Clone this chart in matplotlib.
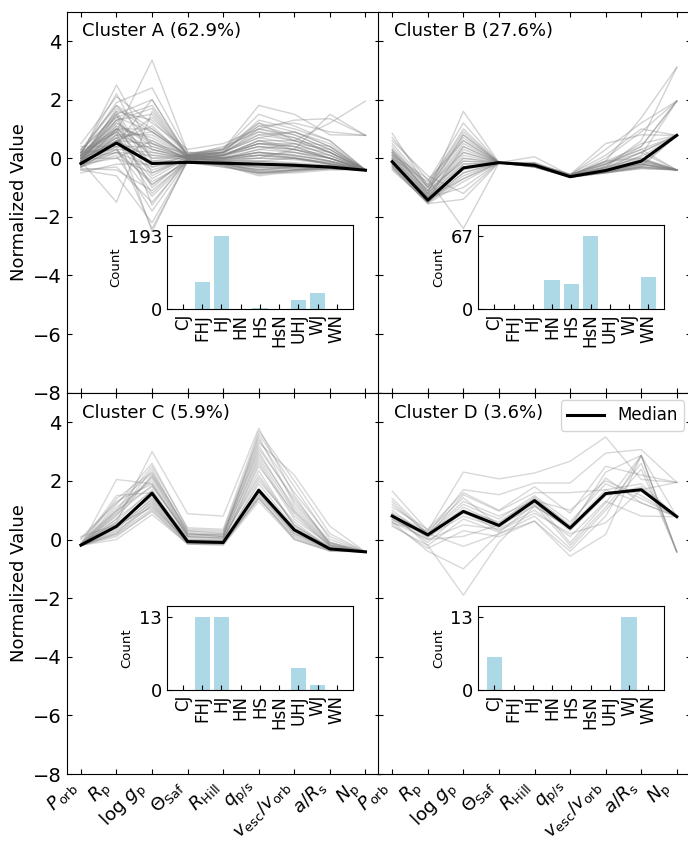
import matplotlib
matplotlib.use("Agg")
import matplotlib.pyplot as plt
import numpy as np

# Feature axes of the parallel-coordinate plot
features = [r'$P_{\rm orb}$', r'$R_{\rm p}$', r'$\log\,g_{\rm p}$', r'$\Theta_{\rm Saf}$',
            r'$R_{\rm Hill}$', r'$q_{\rm p/s}$', r'$v_{\rm esc}/v_{\rm orb}$',
            r'$a/R_{\rm s}$', r'$N_{\rm p}$']

# Planet classes shown in the count insets
planet_types = ['CJ', 'FHJ', 'HJ', 'HN', 'HS', 'HsN', 'UHJ', 'WJ', 'WN']

cluster_names = ['Cluster A', 'Cluster B', 'Cluster C', 'Cluster D']
cluster_pct = [62.9, 27.6, 5.9, 3.6]

counts_A = [0, 70, 193, 0, 2, 0, 24, 43, 0]
counts_B = [0, 0, 0, 27, 23, 67, 0, 0, 29]
counts_C = [0, 13, 13, 0, 0, 0, 4, 1, 0]
counts_D = [6, 0, 0, 0, 0, 0, 0, 13, 0]

median_A = [-0.18, 0.52, -0.18, -0.14, -0.17, -0.20, -0.24, -0.30, -0.41]
median_B = [-0.12, -1.43, -0.33, -0.15, -0.24, -0.63, -0.42, -0.10, 0.78]
median_C = [-0.19, 0.45, 1.58, -0.07, -0.10, 1.68, 0.33, -0.32, -0.42]
median_D = [0.80, 0.16, 0.96, 0.48, 1.33, 0.39, 1.57, 1.70, 0.78]

members_A = [
    [-0.20, 0.60, -0.20, -0.10, -0.15, -0.20, -0.25, -0.30, -0.40],
    [-0.10, 1.20, 0.50, 0.00, 0.10, 0.40, 0.20, -0.10, -0.40],
    [0.30, 1.80, 1.00, 0.10, 0.30, 1.00, 0.80, 0.30, -0.40],
    [-0.30, 0.20, -0.80, -0.15, -0.30, -0.50, -0.45, -0.35, -0.40],
    [0.10, 2.50, 0.30, 0.05, 0.20, 0.80, 0.60, 0.20, -0.40],
    [-0.40, -0.30, -1.50, -0.10, -0.25, -0.55, -0.40, -0.30, -0.40],
    [0.20, 0.90, 3.35, 0.20, 0.20, 1.20, 0.60, 0.40, -0.40],
    [-0.20, 1.50, 2.00, 0.10, 0.00, 0.30, 0.50, 0.10, -0.40],
    [0.40, 0.40, -2.40, -0.10, 0.10, 0.60, 0.30, 0.00, -0.40],
    [-0.10, -1.50, 1.60, 0.10, 0.00, 0.20, 0.00, -0.20, -0.40],
    [0.00, 0.00, -0.50, -0.05, -0.20, -0.40, -0.30, -0.30, -0.40],
    [-0.30, 0.80, 0.80, 0.05, -0.10, -0.10, -0.20, -0.30, -0.40],
    [0.20, 1.00, -1.00, 0.00, 0.20, 0.70, 0.90, 0.50, -0.40],
    [0.10, 0.50, 1.40, 0.15, 0.30, 1.80, 1.50, 0.80, 0.78],
    [-0.20, 0.30, 0.20, 0.00, -0.10, 0.00, 0.30, 1.50, 0.78],
    [0.00, 1.60, -0.30, 0.10, 0.20, 1.30, 1.00, 0.60, -0.40],
    [-0.40, -0.60, -2.20, -0.10, -0.30, -0.50, -0.50, -0.40, -0.40],
    [0.50, 2.10, 1.20, 0.30, 0.50, 1.00, 0.70, 0.20, -0.40],
    [-0.10, 0.70, -1.20, -0.05, 0.00, 0.20, 0.10, -0.10, -0.40],
    [0.10, 1.30, 0.00, 0.10, 0.40, 0.90, 0.60, 1.20, 1.95],
    [-0.30, 0.10, -1.80, -0.10, -0.20, -0.30, -0.35, -0.35, -0.40],
    [0.20, 1.90, 2.40, 0.20, 0.10, 0.50, 0.40, 0.20, -0.40],
    [-0.15, 0.40, 0.40, 0.00, -0.15, -0.35, -0.30, -0.30, -0.40],
    [0.00, 1.10, -0.60, 0.05, 0.10, 0.60, 0.40, 0.00, -0.40],
    [-0.20, 0.00, 0.60, -0.05, -0.25, -0.60, -0.45, -0.35, -0.40],
    [0.30, 1.40, 1.80, 0.15, 0.00, 0.20, 0.10, -0.10, -0.40],
    [-0.50, -0.20, -0.20, -0.10, -0.20, -0.40, -0.30, -0.30, -0.40],
    [0.10, 0.90, -2.50, -0.05, 0.10, 0.50, 0.50, 0.30, -0.40],
    [-0.10, 1.70, 0.90, 0.10, 0.30, 1.50, 1.10, 0.60, -0.40],
    [0.00, 0.60, 1.10, 0.00, -0.05, -0.10, 0.00, -0.20, -0.40],
    [0.20, 0.30, -0.90, -0.05, 0.00, 0.30, 0.20, 0.00, -0.40],
    [-0.25, 1.00, 0.10, 0.05, -0.10, -0.25, -0.20, -0.30, -0.40],
    [0.15, 2.20, -0.10, 0.10, 0.30, 1.10, 1.20, 0.90, 0.78],
    [-0.35, -0.40, -1.10, -0.10, -0.20, -0.45, -0.40, -0.35, -0.40],
    [0.05, 0.80, 0.30, 0.00, 0.05, 0.10, 0.00, -0.15, -0.40],
    [-0.10, 1.30, 1.50, 0.10, 0.20, 0.80, 0.90, 0.40, -0.40],
    [0.00, 0.50, 2.00, 0.05, 0.00, 0.10, 0.20, 0.00, -0.40],
    [0.25, 1.50, -1.60, 0.00, 0.10, 0.40, 0.30, 0.10, -0.40],
    [-0.20, 0.20, -0.30, -0.10, -0.25, -0.50, -0.40, -0.30, -0.40],
    [0.10, 1.00, 0.70, 0.05, 0.15, 1.00, 1.30, 1.35, 0.78],
    [-0.10, 0.90, 0.20, 0.00, -0.05, 0.10, 0.05, -0.20, -0.40],
    [0.00, 1.10, 0.60, 0.05, 0.05, 0.40, 0.30, 0.00, -0.40],
    [-0.20, 0.50, -0.40, -0.05, -0.15, -0.30, -0.30, -0.30, -0.40],
    [0.10, 1.40, 0.90, 0.10, 0.20, 0.70, 0.50, 0.10, -0.40],
    [-0.15, 0.70, -0.70, 0.00, -0.10, -0.10, -0.15, -0.25, -0.40],
    [0.05, 1.60, 1.30, 0.10, 0.15, 0.50, 0.40, 0.00, -0.40],
    [-0.25, 0.30, -1.30, -0.10, -0.20, -0.45, -0.40, -0.35, -0.40],
    [0.15, 1.20, 0.40, 0.05, 0.25, 1.10, 0.80, 0.30, -0.40],
    [-0.05, 0.60, 0.00, 0.00, -0.10, -0.20, -0.20, -0.25, -0.40],
    [0.00, 1.00, 1.00, 0.05, 0.00, 0.20, 0.10, -0.10, -0.40],
    [-0.30, 0.40, -0.10, -0.05, -0.20, -0.40, -0.35, -0.30, -0.40],
    [0.20, 1.80, 0.50, 0.15, 0.35, 1.20, 0.90, 0.40, -0.40],
    [-0.10, 0.80, -0.90, -0.05, -0.05, 0.00, 0.00, -0.15, -0.40],
    [0.00, 1.30, 1.70, 0.10, 0.10, 0.60, 0.60, 0.20, -0.40],
    [-0.20, 0.60, 0.50, 0.00, -0.15, -0.30, -0.25, -0.30, -0.40],
    [0.10, 0.90, -0.20, 0.05, 0.10, 0.50, 0.30, 0.00, -0.40],
    [-0.15, 1.00, 0.30, 0.00, -0.05, 0.10, 0.00, -0.20, -0.40],
    [0.05, 0.70, 0.90, 0.05, 0.00, 0.00, -0.05, -0.20, -0.40],
    [-0.05, 1.50, -0.50, 0.05, 0.20, 0.90, 0.70, 0.20, -0.40],
    [0.00, 0.20, 0.10, -0.05, -0.20, -0.50, -0.40, -0.35, -0.40],
]

members_B = [
    [-0.10, -1.40, -0.30, -0.15, -0.25, -0.62, -0.45, -0.10, 0.78],
    [0.85, -1.00, 0.20, -0.15, -0.20, -0.60, -0.30, 0.20, -0.40],
    [0.30, -1.20, 1.60, -0.15, -0.25, -0.60, -0.40, -0.20, -0.40],
    [-0.30, -1.55, -0.80, -0.15, -0.30, -0.65, -0.50, -0.30, -0.40],
    [0.10, -0.70, -2.40, -0.15, -0.20, -0.55, -0.20, 0.30, 0.78],
    [0.50, -0.90, 0.90, -0.15, -0.15, -0.58, -0.10, 1.38, 3.10],
    [-0.20, -1.30, 0.00, -0.15, -0.30, -0.63, -0.45, -0.20, -0.40],
    [0.20, -1.10, 0.50, -0.15, -0.20, -0.60, 0.00, 0.90, 1.95],
    [-0.40, -1.50, -0.50, -0.15, -0.28, -0.64, -0.50, -0.35, -0.40],
    [0.00, -0.80, 1.20, -0.15, -0.22, -0.58, -0.20, 0.50, 0.78],
    [-0.10, -1.45, -0.20, -0.15, -0.25, -0.62, -0.40, 0.10, 1.95],
    [0.60, -0.60, -1.20, -0.15, -0.20, -0.55, 0.10, 1.00, 0.78],
    [-0.15, -1.35, -1.00, -0.15, -0.30, -0.63, -0.48, -0.30, -0.40],
    [0.40, -1.00, 0.70, -0.15, -0.18, -0.57, -0.15, 0.30, -0.40],
    [-0.25, -1.50, -0.60, -0.15, -0.27, -0.64, -0.46, -0.25, 0.78],
    [0.10, -1.20, 0.30, -0.15, -0.23, -0.60, -0.30, 0.60, 3.10],
    [-0.05, -1.30, -0.40, -0.15, -0.26, -0.62, -0.42, -0.05, -0.40],
    [0.30, -0.90, 1.00, -0.15, 0.05, -0.58, 0.30, 1.20, 1.95],
    [-0.30, -1.55, -1.40, -0.15, -0.30, -0.65, -0.50, -0.35, -0.40],
    [0.00, -1.25, 0.10, -0.15, -0.24, -0.60, -0.35, 0.20, 0.78],
    [0.20, -1.10, -0.10, -0.15, -0.22, -0.60, -0.25, 0.40, 1.95],
    [-0.20, -1.40, 0.40, -0.15, -0.26, -0.62, -0.40, -0.10, -0.40],
    [0.70, -0.75, 0.60, -0.15, -0.15, -0.56, 0.50, 0.80, 0.78],
    [-0.10, -1.35, -0.70, -0.15, -0.28, -0.63, -0.45, -0.20, -0.40],
    [0.15, -1.15, 0.80, -0.15, -0.20, -0.59, -0.10, 0.00, -0.40],
    [-0.35, -1.50, -0.30, -0.15, -0.29, -0.64, -0.48, -0.30, 0.78],
    [-0.10, -1.30, -0.20, -0.15, -0.25, -0.62, -0.40, -0.15, -0.40],
    [0.10, -1.10, 0.40, -0.15, -0.22, -0.60, -0.30, 0.00, -0.40],
    [-0.20, -1.45, -0.50, -0.15, -0.27, -0.63, -0.45, -0.25, -0.40],
    [0.20, -1.00, 0.60, -0.15, -0.20, -0.58, -0.20, 0.20, 0.78],
    [0.00, -1.20, 0.00, -0.15, -0.24, -0.61, -0.35, -0.05, -0.40],
    [-0.15, -1.40, -0.30, -0.15, -0.26, -0.62, -0.42, -0.20, -0.40],
    [0.05, -1.25, 0.20, -0.15, -0.23, -0.60, -0.32, 0.05, 0.78],
    [-0.05, -1.35, -0.10, -0.15, -0.25, -0.62, -0.38, -0.10, -0.40],
    [0.25, -0.95, 0.80, -0.15, -0.20, -0.58, -0.10, 0.40, 1.95],
    [-0.25, -1.50, -0.70, -0.15, -0.28, -0.64, -0.47, -0.30, -0.40],
]

members_C = [
    [-0.20, 2.05, 1.90, 0.10, 0.05, 2.20, 0.50, -0.30, -0.42],
    [-0.20, 0.10, 1.00, -0.15, -0.15, 1.40, 0.10, -0.35, -0.42],
    [-0.15, 0.60, 3.00, 0.88, 0.80, 3.80, 1.50, -0.20, -0.42],
    [-0.20, 1.40, 2.30, 0.30, 0.25, 3.30, 2.20, 0.45, -0.42],
    [-0.20, 0.20, 1.20, -0.10, -0.10, 1.70, 0.30, -0.30, -0.42],
    [-0.10, 1.00, 1.80, 0.20, 0.10, 2.70, 0.80, -0.20, -0.42],
    [-0.20, 0.35, 1.40, -0.05, -0.10, 2.00, 0.60, -0.30, -0.42],
    [-0.20, 1.20, 2.60, 0.35, 0.30, 3.50, 1.20, -0.10, -0.42],
    [-0.20, 0.00, 0.85, -0.15, -0.20, 1.30, 0.00, -0.40, -0.42],
    [-0.20, 0.90, 2.10, 0.15, 0.20, 3.00, 1.00, -0.15, -0.42],
    [0.10, 0.50, 1.10, -0.05, -0.05, 1.60, 0.20, -0.30, -0.42],
    [-0.20, 0.70, 2.20, 0.25, 0.15, 3.20, 1.30, -0.10, -0.42],
    [-0.20, 0.25, 1.30, -0.10, -0.15, 1.50, 0.15, -0.35, -0.42],
    [-0.15, 1.50, 1.60, 0.05, 0.00, 2.50, 0.90, -0.25, -0.42],
    [-0.20, 0.45, 1.58, -0.07, -0.10, 1.68, 0.33, -0.32, -0.42],
    [-0.20, 0.80, 2.40, 0.20, 0.10, 3.60, 1.80, 0.00, -0.42],
    [-0.20, 0.15, 0.95, -0.15, -0.15, 1.45, 0.00, -0.38, -0.42],
    [0.05, 1.30, 1.90, 0.10, 0.05, 2.10, 0.50, -0.25, -0.42],
    [-0.20, 0.60, 1.70, 0.00, -0.05, 2.60, 0.70, -0.20, -0.42],
    [-0.20, 0.30, 1.15, -0.10, -0.12, 1.55, 0.20, -0.33, -0.42],
    [-0.20, 1.10, 2.00, 0.15, 0.10, 2.90, 1.10, -0.15, -0.42],
    [-0.15, 0.55, 1.45, -0.05, -0.08, 1.90, 0.40, -0.30, -0.42],
    [-0.20, 0.40, 1.25, -0.10, -0.12, 1.62, 0.25, -0.35, -0.42],
    [-0.20, 0.70, 1.65, 0.00, -0.02, 2.35, 0.45, -0.28, -0.42],
    [-0.20, 0.95, 2.15, 0.20, 0.15, 3.10, 1.40, -0.10, -0.42],
    [-0.20, 0.50, 1.50, -0.05, -0.10, 1.75, 0.35, -0.30, -0.42],
    [0.00, 1.25, 2.25, 0.30, 0.20, 3.40, 1.60, 0.10, -0.42],
    [-0.20, 0.20, 1.05, -0.12, -0.15, 1.40, 0.05, -0.38, -0.42],
    [-0.20, 0.85, 1.85, 0.10, 0.05, 2.80, 0.95, -0.20, -0.42],
    [-0.20, 0.45, 1.35, -0.05, -0.10, 1.65, 0.30, -0.32, -0.42],
    [-0.20, 1.00, 2.50, 0.40, 0.35, 3.70, 2.00, 0.20, -0.42],
]

members_D = [
    [1.65, 0.30, 2.30, 2.07, 2.27, 2.67, 3.50, 2.05, 1.95],
    [1.20, 0.20, 1.70, 1.53, 1.93, 1.93, 2.95, 3.07, 1.95],
    [0.90, -0.20, -1.90, -0.10, 1.14, 0.40, 2.30, 2.87, -0.42],
    [0.60, -0.40, -1.00, 0.20, 0.63, -0.57, 0.17, 2.87, -0.42],
    [1.00, 0.10, 1.53, 0.97, 1.60, 1.60, 1.70, 1.25, 0.78],
    [0.70, 0.00, 0.11, 0.50, 1.33, -0.11, 1.25, 2.87, -0.42],
    [0.55, 0.30, 1.42, 0.48, 1.14, 0.39, 1.57, 1.70, 1.95],
    [0.80, -0.10, 0.96, 0.30, 0.90, 0.20, 0.57, 1.70, 0.78],
    [1.30, 0.15, 1.20, 0.70, 1.50, 0.60, 1.90, 1.40, 0.78],
    [0.65, 0.20, -0.23, 0.20, 0.80, -0.30, 1.00, 2.40, -0.42],
    [0.90, 0.25, 1.00, 0.60, 1.40, 0.50, 2.10, 1.25, 0.78],
    [0.50, -0.30, 0.30, 0.10, 0.63, -0.40, 0.80, 2.87, 0.78],
    [1.10, 0.35, 1.60, 1.00, 1.80, 0.90, 2.50, 2.20, 1.95],
    [0.75, 0.10, 0.80, 0.40, 1.25, 0.30, 1.50, 1.80, 0.78],
    [0.60, 0.00, 0.50, 0.35, 1.00, 0.10, 1.30, 0.80, 0.78],
    [1.40, 0.20, 1.30, 0.80, 1.33, 1.00, 2.00, 1.50, 0.78],
    [0.45, -0.20, 0.70, 0.25, 1.20, -0.20, 1.10, 2.60, -0.42],
    [0.85, 0.05, 1.10, 0.55, 1.45, 0.45, 1.70, 1.90, 0.78],
    [0.70, 0.16, 0.90, 0.45, 1.30, 0.35, 1.55, 1.65, 0.78],
]

members = [members_A, members_B, members_C, members_D]
medians = [median_A, median_B, median_C, median_D]
counts = [counts_A, counts_B, counts_C, counts_D]
member_alpha = [0.35, 0.35, 0.3, 0.3]

FW, FH = 688, 841
fig = plt.figure(figsize=(FW / 100, FH / 100), dpi=100)

panel_w = 313 / FW
panel_h = 381 / FH
lefts = [66.7 / FW, 378 / FW]
bottoms = [1 - 392.7 / FH, 1 - 774 / FH]

x = np.arange(len(features))

for k in range(4):
    row, col = divmod(k, 2)
    ax = fig.add_axes([lefts[col], bottoms[row], panel_w, panel_h])

    for line in members[k]:
        ax.plot(x, line, color='gray', alpha=member_alpha[k], lw=1.0)
    ax.plot(x, medians[k], color='black', lw=2.2, label='Median', zorder=4)

    ax.set_xlim(-0.4, 8.4)
    ax.set_ylim(-8, 5)
    ax.set_yticks([-8, -6, -4, -2, 0, 2, 4])
    ax.set_xticks(x)
    ax.tick_params(direction='in', top=True, right=True, labelsize=14)
    ax.tick_params(axis='x', pad=2)
    if row == 1:
        ax.set_xticklabels(features, rotation=45, ha='right', fontsize=13.2)
    else:
        ax.set_xticklabels([])
    if col == 0:
        ax.set_ylabel('Normalized Value', fontsize=13)
    else:
        ax.set_yticklabels([])

    ax.text(0.05, 0.972, f'{cluster_names[k]} ({cluster_pct[k]}%)',
            transform=ax.transAxes, ha='left', va='top', fontsize=13)

    if k == 3:
        ax.legend(loc='upper right', fontsize=12, handlelength=2.2,
                  borderaxespad=0.4)

    ins = ax.inset_axes([0.32, 0.22, 0.595, 0.22])
    ins.bar(np.arange(len(planet_types)), counts[k], color='lightblue', width=0.8)
    cmax = max(counts[k])
    ins.set_ylim(0, cmax * 1.15)
    ins.set_yticks([0, cmax])
    ins.set_xticks(np.arange(len(planet_types)))
    ins.set_xticklabels(planet_types, rotation=90, fontsize=12)
    ins.tick_params(axis='y', direction='in', labelsize=13)
    ins.tick_params(axis='x', direction='in')
    ins.set_ylabel('Count', fontsize=9.5)

fig.savefig('out.png', dpi=100)
